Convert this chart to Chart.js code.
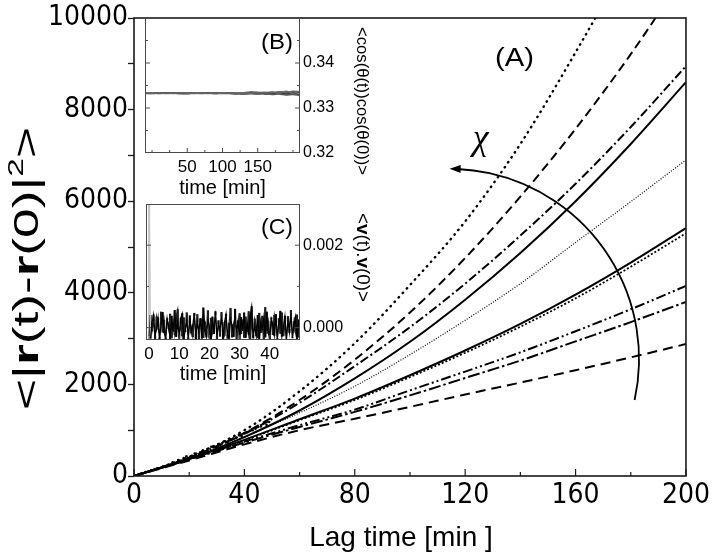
<!DOCTYPE html>
<html><head><meta charset="utf-8">
<script src="https://cdn.jsdelivr.net/npm/chart.js@4"></script>
<style>
html,body{margin:0;padding:0;background:#fff;}
#wrap{position:relative;width:713px;height:557px;overflow:hidden;background:#fff;}
canvas{position:absolute;}
#main{left:0;top:0;}
#insetB{left:140px;top:0;}
#insetC{left:140px;top:190px;}
</style></head><body>
<div id="wrap">
<canvas id="main" width="713" height="557"></canvas>
<canvas id="insetB" width="236" height="200"></canvas>
<canvas id="insetC" width="236" height="196"></canvas>
</div>
<script>
// ---------------- main panel (A) data ----------------
const lagTime = [0,20,40,60,80,100,120,140,160,180,200];
const msdDotted1    = [0,420,1000,1850,2900,4170,5560,7250,9250,11400,13700];
const msdDashed1    = [0,400,940,1660,2540,3570,4760,6100,7580,9210,11000];
const msdDashDot1   = [0,400,920,1600,2400,3250,4200,5250,6380,7620,8950];
const msdSolid1     = [0,370,850,1430,2130,2930,3850,4870,6000,7250,8600];
const msdDotted2    = [0,400,860,1380,1960,2650,3400,4200,5100,5990,6900];
const msdSolid2     = [0,380,790,1240,1690,2200,2740,3320,3960,4660,5415];
const msdShortDot   = [0,380,780,1220,1660,2160,2690,3260,3880,4570,5300];
const msdDashDotDot = [0,370,750,1110,1450,1870,2280,2700,3160,3640,4150];
const msdDashDot2   = [0,360,730,1070,1400,1760,2140,2520,2940,3360,3800];
const msdDashed2    = [0,340,690,1000,1250,1510,1780,2040,2310,2590,2880];
// scattered early-time points of the individual trajectories
const earlyT = [14,16,18,19,21,22,24,25,27,28,29,31,32,33,35,36,37,38,40,41,42,44,45,46,48,49,26,30,34,39,43,47];
const earlyV = [300,350,390,430,440,490,520,560,600,640,650,700,720,760,800,820,840,900,930,960,990,1030,1070,1080,1120,1180,540,620,720,860,1000,1150];
const mainXTicks = [0,40,80,120,160,200];
const mainXMinor = [20,60,100,140,180];
const mainYTicks = [0,2000,4000,6000,8000,10000];
const mainYMinor = [1000,3000,5000,7000,9000];

// ---------------- inset (B) data ----------------
const bTime = [-10,0,10,20,30,40,50,60,70,80,90,100,110,120,130,140,150,160,170,180,190,200,210];
const bCos1 = [0.3334,0.3333,0.3334,0.3332,0.3333,0.3334,0.3333,0.3332,0.3333,0.3333,0.3332,0.3333,0.3334,0.3333,0.3332,0.3333,0.3334,0.3335,0.3334,0.3336,0.3335,0.3337,0.3336];
const bCos2 = [0.3332,0.3333,0.3332,0.3333,0.3334,0.3332,0.3333,0.3333,0.3332,0.3334,0.3333,0.3332,0.3332,0.3331,0.3333,0.3332,0.3331,0.3332,0.3330,0.3331,0.3329,0.3330,0.3328];
const bCos3 = [0.3333,0.3334,0.3333,0.3333,0.3332,0.3333,0.3334,0.3334,0.3333,0.3332,0.3333,0.3334,0.3333,0.3334,0.3334,0.3336,0.3335,0.3333,0.3336,0.3333,0.3337,0.3333,0.3338];
const bCos4 = [0.3333,0.3332,0.3333,0.3334,0.3333,0.3332,0.3332,0.3333,0.3334,0.3333,0.3334,0.3333,0.3333,0.3332,0.3331,0.3332,0.3333,0.3331,0.3332,0.3334,0.3331,0.3332,0.3330];
const bCos5 = [0.3333,0.3333,0.3334,0.3333,0.3333,0.3333,0.3332,0.3333,0.3333,0.3333,0.3332,0.3334,0.3333,0.3333,0.3333,0.3334,0.3332,0.3334,0.3333,0.3335,0.3334,0.3334,0.3335];
const bXTicks = [50,100,150];
const bYTicks = [0.32,0.33,0.34];

// ---------------- inset (C) data ----------------
const cTime = [0,0.5,1,1.5,2,2.5,3,3.5,4,4.5,5,5.5,6,6.5,7,7.5,8,8.5,9,9.5,
 10,10.5,11,11.5,12,12.5,13,13.5,14,14.5,15,15.5,16,16.5,17,17.5,18,18.5,19,19.5,
 20,20.5,21,21.5,22,22.5,23,23.5,24,24.5,25,25.5,26,26.5,27,27.5,28,28.5,29,29.5,
 30,30.5,31,31.5,32,32.5,33,33.5,34,34.5,35,35.5,36,36.5,37,37.5,38,38.5,39,39.5,
 40,40.5,41,41.5,42,42.5,43,43.5,44,44.5,45,45.5,46,46.5,47,47.5,48,48.5,49,49.5];
const cVel1 = [4.0e-3,-2.6e-4,1.2e-4,3.1e-4,-1.9e-4,-0.4e-4,2.4e-4,-2.8e-4,0.8e-4,3.7e-4,
 -1.2e-4,-2.5e-4,1.9e-4,0.5e-4,-2.9e-4,2.8e-4,-0.9e-4,4.2e-4,-2.2e-4,1.1e-4,
 -1.7e-4,2.3e-4,3.4e-4,-2.7e-4,-0.6e-4,1.6e-4,-2.4e-4,2.9e-4,-1.3e-4,0.7e-4,
 3.5e-4,-2.8e-4,1.4e-4,-1.0e-4,2.2e-4,-2.6e-4,4.8e-4,-0.8e-4,-2.3e-4,1.8e-4,
 0.3e-4,-2.9e-4,2.6e-4,-1.5e-4,3.9e-4,-2.1e-4,0.9e-4,-0.4e-4,2.7e-4,-2.7e-4,
 1.3e-4,3.3e-4,-1.8e-4,-2.6e-4,2.0e-4,0.6e-4,-2.2e-4,4.5e-4,-1.1e-4,1.7e-4,
 -2.8e-4,2.5e-4,-0.7e-4,3.6e-4,-2.4e-4,1.0e-4,-1.6e-4,2.9e-4,5.1e-4,-2.5e-4,
 0.4e-4,-2.0e-4,3.0e-4,-2.9e-4,1.5e-4,-0.5e-4,2.4e-4,-2.3e-4,3.8e-4,-1.4e-4,
 -2.7e-4,2.1e-4,0.8e-4,-1.9e-4,3.2e-4,-2.6e-4,1.2e-4,4.0e-4,-2.1e-4,0.2e-4,
 2.8e-4,-2.8e-4,1.6e-4,-1.2e-4,3.4e-4,-2.4e-4,0.6e-4,2.6e-4,-2.9e-4,1.9e-4];
const cVel2 = [-2.0e-4,3.0e-4,-0.8e-4,1.5e-4,-2.7e-4,2.6e-4,0.4e-4,-2.3e-4,3.8e-4,-1.1e-4,
 1.8e-4,-2.9e-4,2.2e-4,-0.3e-4,3.3e-4,-2.5e-4,1.0e-4,-1.7e-4,2.7e-4,4.4e-4,
 -2.6e-4,0.9e-4,-2.0e-4,2.4e-4,-1.0e-4,3.6e-4,-2.8e-4,1.3e-4,0.1e-4,-2.2e-4,
 2.9e-4,-1.6e-4,3.2e-4,-2.7e-4,0.7e-4,2.0e-4,-2.4e-4,1.4e-4,-0.9e-4,4.1e-4,
 -2.5e-4,2.3e-4,-1.3e-4,0.5e-4,3.1e-4,-2.9e-4,1.7e-4,-2.1e-4,3.7e-4,-0.6e-4,
 -1.9e-4,2.8e-4,-2.6e-4,1.1e-4,4.7e-4,-2.3e-4,0.8e-4,2.5e-4,-2.8e-4,-0.2e-4,
 3.4e-4,-1.5e-4,1.9e-4,-2.4e-4,2.6e-4,-1.0e-4,3.9e-4,-2.7e-4,1.2e-4,-1.8e-4,
 2.1e-4,0.3e-4,-2.5e-4,3.5e-4,-1.2e-4,2.8e-4,-2.9e-4,4.9e-4,-0.7e-4,1.6e-4,
 -2.2e-4,2.4e-4,-1.7e-4,3.0e-4,0.5e-4,-2.6e-4,2.2e-4,-1.4e-4,3.6e-4,-2.0e-4,
 1.0e-4,-2.8e-4,2.7e-4,-0.4e-4,4.2e-4,-2.5e-4,1.5e-4,-1.1e-4,3.1e-4,-2.3e-4];
const cXTicks = [0,10,20,30,40];
const cYTicks = [0,0.002];

// ---------------- annotation positions (data coords of panel A) ----------------
const labelA = {x:137.9, y:9105};
const labelChi = {x:125.6, y:7148};
const arcCenter = {x:114, y:2550};
const arcRadiusX = 69;   // radius expressed in x-axis units

const LS = "'Liberation Sans', Arial, sans-serif";
const LSN = "'Liberation Sans Narrow', 'Arial Narrow', 'DejaVu Sans Condensed', sans-serif";
Chart.defaults.font.family = LS;
Chart.defaults.color = '#000';

function pts(xs, ys){ return xs.map((x,i)=>({x:x, y:ys[i]})); }

function drawParts(ctx, parts, x, y, rot, targetLen, baseline){
  ctx.save();
  ctx.translate(x, y);
  ctx.rotate(rot);
  ctx.textBaseline = baseline || 'alphabetic';
  ctx.textAlign = 'left';
  ctx.fillStyle = '#000';
  let w = 0;
  parts.forEach(p=>{ ctx.font = p.f; p.w = ctx.measureText(p.t).width; w += p.w; });
  const s = targetLen ? targetLen / w : 1;
  ctx.scale(s, 1);
  let cx = -w/2;
  parts.forEach(p=>{ ctx.font = p.f; ctx.fillText(p.t, cx, p.dy || 0); cx += p.w; });
  ctx.restore();
}
function seg(ctx, x1, y1, x2, y2){ ctx.beginPath(); ctx.moveTo(x1,y1); ctx.lineTo(x2,y2); ctx.stroke(); }

// ---------------- main chart ----------------
function ds(data, dash, width, cap){
  return { data: pts(lagTime, data), borderColor:'#000', borderWidth:width, borderDash:dash,
           borderCapStyle: cap || 'butt', pointRadius:0, fill:false, cubicInterpolationMode:'monotone' };
}
const mainDecor = {
  id:'mainDecor',
  afterDraw(chart){
    const {ctx, chartArea:a, scales:{x, y}} = chart;
    ctx.save();
    ctx.strokeStyle = '#1a1a1a'; ctx.lineWidth = 1.6;
    ctx.strokeRect(a.left, a.top, a.right - a.left, a.bottom - a.top);
    ctx.lineWidth = 1.2;
    mainXTicks.forEach(v=>{ const p = x.getPixelForValue(v); seg(ctx, p, a.bottom, p, a.bottom - 7); });
    mainXMinor.forEach(v=>{ const p = x.getPixelForValue(v); seg(ctx, p, a.bottom, p, a.bottom - 4); });
    // y title
    drawParts(ctx, [
      {t:'<|', f:'35px '+LS}, {t:'r', f:'bold 35px '+LS}, {t:'(t)-', f:'35px '+LS},
      {t:'r', f:'bold 35px '+LS}, {t:'(0)|', f:'35px '+LS}, {t:'2', f:'22px '+LS, dy:-15},
      {t:'>', f:'35px '+LS}], 38, 268.5, -Math.PI/2, 283, 'alphabetic');
    // x title
    drawParts(ctx, [{t:'Lag time [min ]', f:'28px '+LS}], (a.left + a.right)/2 - 9, 538, 0, 0, 'middle');
    // (A)
    drawParts(ctx, [{t:'(A)', f:'25px '+LS}], x.getPixelForValue(labelA.x), y.getPixelForValue(labelA.y), 0, 39, 'middle');
    // chi
    drawParts(ctx, [{t:'\u03C7', f:'italic 36px "Liberation Serif", "DejaVu Serif", serif'}], x.getPixelForValue(labelChi.x), y.getPixelForValue(labelChi.y), 0, 0, 'alphabetic');
    // arc arrow
    const cx = x.getPixelForValue(arcCenter.x), cy = y.getPixelForValue(arcCenter.y);
    const r = x.getPixelForValue(arcCenter.x + arcRadiusX) - cx;
    const a0 = 0.216, a1 = -1.555;
    ctx.strokeStyle = '#000'; ctx.lineWidth = 1.8;
    ctx.beginPath(); ctx.arc(cx, cy, r, a0, a1 + 0.03, true); ctx.stroke();
    const px = cx + r*Math.cos(a1), py = cy + r*Math.sin(a1);
    const dx = Math.sin(a1), dy = -Math.cos(a1);
    const nx = -dy, ny = dx;
    ctx.fillStyle = '#000';
    ctx.beginPath();
    ctx.moveTo(px + dx*2, py + dy*2);
    ctx.lineTo(px - dx*9 + nx*4, py - dy*9 + ny*4);
    ctx.lineTo(px - dx*9 - nx*4, py - dy*9 - ny*4);
    ctx.closePath(); ctx.fill();
    ctx.restore();
  }
};

new Chart(document.getElementById('main'), {
  type:'line',
  data:{ datasets:[
    ds(msdDashed2, [10,6], 2),
    ds(msdDashDot2, [12,3,2.5,3], 2),
    ds(msdDashDotDot, [10,3,2,3,2,3], 2),
    ds(msdShortDot, [2,2], 1.8),
    ds(msdSolid2, [], 2),
    ds(msdDotted2, [1,1.6], 1.2),
    ds(msdSolid1, [], 2),
    ds(msdDashDot1, [9,3,2,3], 2),
    ds(msdDashed1, [9,5], 2),
    ds(msdDotted1, [0.5,5.5], 2.4, 'round'),
    { type:'scatter', data: pts(earlyT, earlyV), showLine:false, pointRadius:1.3, pointBorderWidth:0,
      pointBackgroundColor:'#000', borderColor:'#000' }
  ]},
  options:{
    responsive:false, animation:false, devicePixelRatio:1,
    layout:{ padding:{ left:0, right:25, top:18, bottom:0 } },
    plugins:{ legend:{display:false}, tooltip:{enabled:false} },
    scales:{
      x:{ type:'linear', min:0, max:200,
          afterBuildTicks:s=>{ s.ticks = mainXTicks.map(v=>({value:v})); },
          afterFit:s=>{ s.height = 81; },
          grid:{ display:false, drawTicks:false },
          border:{ display:false },
          ticks:{ autoSkip:false, maxRotation:0, padding:3, font:{ family:LSN, size:28 }, color:'#000' } },
      y:{ type:'linear', min:0, max:10000,
          afterBuildTicks:s=>{ s.ticks = mainYTicks.concat(mainYMinor).sort((p,q)=>p-q).map(v=>({value:v})); },
          afterFit:s=>{ s.width = 134; },
          grid:{ drawOnChartArea:false, drawTicks:true, tickLength:6, tickColor:'#1a1a1a', tickWidth:1.3 },
          border:{ display:false },
          ticks:{ autoSkip:false, padding:0, font:{ family:LSN, size:28 }, color:'#000',
                  callback:v=> mainYTicks.includes(v) ? String(v) : '' } }
    }
  },
  plugins:[mainDecor]
});

// ---------------- insets ----------------
function insetFrame(chart, xT, xMajor, yT, yMajor){
  const {ctx, chartArea:a, scales:{x, y}} = chart;
  ctx.save();
  ctx.strokeStyle = '#4a4a4a'; ctx.lineWidth = 1;
  ctx.strokeRect(a.left+0.5, a.top+0.5, a.right-a.left-1, a.bottom-a.top-1);
  xT.forEach(v=>{ const p = x.getPixelForValue(v); const l = xMajor.includes(v)?5:3; seg(ctx, p, a.bottom, p, a.bottom-l); });
  yT.forEach(v=>{ const p = y.getPixelForValue(v); const l = yMajor.includes(v)?5:3;
    seg(ctx, a.left, p, a.left+l, p); seg(ctx, a.right, p, a.right-l, p); });
  ctx.restore();
}
function bLine(data, col){ return { data:pts(bTime, data), borderColor:col, borderWidth:1.5, pointRadius:0, tension:0.35 }; }
new Chart(document.getElementById('insetB'), {
  type:'line',
  data:{ datasets:[ bLine(bCos1,'#666'), bLine(bCos2,'#555'), bLine(bCos3,'#777'), bLine(bCos4,'#333'), bLine(bCos5,'#111') ] },
  options:{
    responsive:false, animation:false, devicePixelRatio:1,
    layout:{ padding:{ left:5, right:0, top:18, bottom:0 } },
    plugins:{ legend:{display:false}, tooltip:{enabled:false} },
    scales:{
      x:{ type:'linear', min:-10, max:210,
          afterBuildTicks:s=>{ s.ticks = bXTicks.map(v=>({value:v})); },
          afterFit:s=>{ s.height = 47; },
          grid:{display:false, drawTicks:false}, border:{display:false},
          ticks:{ autoSkip:false, maxRotation:0, padding:4, font:{size:17}, color:'#000' },
          title:{ display:true, text:'time [min]', font:{size:20}, color:'#000', padding:{top:0,bottom:0} } },
      y:{ type:'linear', position:'right', min:0.32, max:0.35,
          afterBuildTicks:s=>{ s.ticks = bYTicks.map(v=>({value:v})); },
          afterFit:s=>{ s.width = 76; },
          grid:{display:false, drawTicks:false}, border:{display:false},
          ticks:{ autoSkip:false, padding:3, font:{size:16}, color:'#000', callback:v=>v.toFixed(2) } }
    }
  },
  plugins:[{ id:'bDecor', afterDraw(chart){
    insetFrame(chart, [0,25,50,75,100,125,150,175,200], [50,100,150], [0.325,0.33,0.335,0.34,0.345], [0.33,0.34]);
    const ctx = chart.ctx;
    drawParts(ctx, [{t:'<cos(\u03B8(t))cos(\u03B8(0))>', f:'17px '+LS}], 222, 101, Math.PI/2, 148, 'middle');
    drawParts(ctx, [{t:'(B)', f:'22px '+LS}], 137, 43, 0, 32, 'middle');
  }}]
});

// band between the two velocity-correlation traces (built from cVel1 / cVel2)
const cBand = cTime.map((t,i)=>({ x:t, y:[Math.min(cVel1[i], cVel2[i]), Math.max(cVel1[i], cVel2[i])] }));
new Chart(document.getElementById('insetC'), {
  type:'line',
  data:{ datasets:[
    { type:'bar', data:cBand, order:3, barPercentage:1, categoryPercentage:1, borderWidth:0,
      backgroundColor:c=> c.dataIndex === 0 ? '#c8c8c8' : '#111' },
    { data:pts(cTime, cVel1), order:1, borderColor:'#000', borderWidth:1.2, pointRadius:0,
      segment:{ borderColor:c=> c.p0DataIndex === 0 ? '#c4c4c4' : undefined } },
    { data:pts(cTime, cVel2), order:2, borderColor:'#222', borderWidth:1.2, pointRadius:0 }
  ]},
  options:{
    responsive:false, animation:false, devicePixelRatio:1,
    layout:{ padding:{ left:6, right:0, top:14, bottom:0 } },
    plugins:{ legend:{display:false}, tooltip:{enabled:false} },
    scales:{
      x:{ type:'linear', min:-1, max:50, offset:false,
          afterBuildTicks:s=>{ s.ticks = cXTicks.map(v=>({value:v})); },
          afterFit:s=>{ s.height = 46; },
          grid:{display:false, drawTicks:false, offset:false}, border:{display:false},
          ticks:{ autoSkip:false, maxRotation:0, padding:4, font:{size:17}, color:'#000' },
          title:{ display:true, text:'time [min]', font:{size:20}, color:'#000', padding:{top:0,bottom:0} } },
      y:{ type:'linear', position:'right', min:-0.0003, max:0.003,
          afterBuildTicks:s=>{ s.ticks = cYTicks.map(v=>({value:v})); },
          afterFit:s=>{ s.width = 76; },
          grid:{display:false, drawTicks:false}, border:{display:false},
          ticks:{ autoSkip:false, padding:3, font:{size:16}, color:'#000', callback:v=>v.toFixed(3) } }
    }
  },
  plugins:[{ id:'cDecor', afterDraw(chart){
    insetFrame(chart, [0,10,20,30,40], [0,10,20,30,40], [0,0.001,0.002], [0,0.002]);
    const ctx = chart.ctx;
    drawParts(ctx, [{t:'<', f:'18px '+LS}, {t:'v', f:'bold 18px '+LS}, {t:'(t).', f:'18px '+LS},
                    {t:'v', f:'bold 18px '+LS}, {t:'(0)>', f:'18px '+LS}], 222, 67.5, Math.PI/2, 89, 'middle');
    drawParts(ctx, [{t:'(C)', f:'22px '+LS}], 137, 38, 0, 32, 'middle');
  }}]
});
</script>
</body></html>
